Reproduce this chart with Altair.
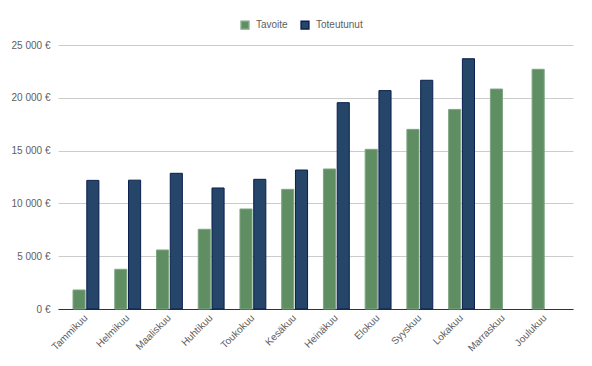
import altair as alt
import pandas as pd

months = ["Tammikuu", "Helmikuu", "Maaliskuu", "Huhtikuu", "Toukokuu", "Kesäkuu",
          "Heinäkuu", "Elokuu", "Syyskuu", "Lokakuu", "Marraskuu", "Joulukuu"]
series_names = ["Tavoite", "Toteutunut"]
tavoite = [1800, 3760, 5590, 7550, 9470, 11330, 13260, 15120, 17010, 18900, 20830, 22700]
toteutunut = [12180, 12200, 12850, 11460, 12280, 13160, 19540, 20680, 21660, 23700]
y_ticks = [0, 5000, 10000, 15000, 20000, 25000]
colors = ["#5f8e63", "#254669"]
strokes = ["#7fa683", "#0b1f4e"]

rows = []
for m, v in zip(months, tavoite):
    rows.append({"Kuukausi": m, "Sarja": "Tavoite", "Arvo": v})
for m, v in zip(months, toteutunut):
    rows.append({"Kuukausi": m, "Sarja": "Toteutunut", "Arvo": v})
df = pd.DataFrame(rows)

FONT = "Liberation Sans Narrow, Arial Narrow, Liberation Sans, Arial"
TEXT = "#5e5e5e"

chart = alt.Chart(df).mark_bar(strokeWidth=1).encode(
    x=alt.X("Kuukausi:N", sort=months, title=None,
            scale=alt.Scale(paddingInner=0.38, paddingOuter=0.36),
            axis=alt.Axis(labelAngle=-45, labelAlign="right", labelBaseline="middle",
                          ticks=False, labelPadding=7, domainColor="#333333",
                          labelColor=TEXT, labelFontSize=10, labelFont=FONT)),
    xOffset=alt.XOffset("Sarja:N", sort=series_names,
                        scale=alt.Scale(paddingInner=0.12)),
    y=alt.Y("Arvo:Q", title=None,
            scale=alt.Scale(domain=[0, 25000], nice=False),
            axis=alt.Axis(values=y_ticks, domain=False, ticks=False, labelPadding=8,
                          gridColor="#cccccc",
                          labelExpr="replace(format(datum.value, ','), ',', ' ') + ' €'",
                          labelColor=TEXT, labelFontSize=10, labelFont=FONT)),
    color=alt.Color("Sarja:N", sort=series_names,
                    scale=alt.Scale(domain=series_names, range=colors),
                    legend=alt.Legend(title=None, orient="none", legendX=182, legendY=-25,
                                      direction="horizontal", symbolType="square",
                                      symbolSize=60, labelFontSize=10, labelFont=FONT,
                                      labelColor=TEXT, columnPadding=10,
                                      labelOffset=6)),
    stroke=alt.Stroke("Sarja:N", sort=series_names,
                      scale=alt.Scale(domain=series_names, range=strokes), legend=None),
).properties(
    width=515, height=264,
    autosize=alt.AutoSizeParams(type="none"),
    padding={"left": 50, "top": 37, "right": 11, "bottom": 49},
).configure_view(stroke=None)

chart.save("out.html", embed_options={"renderer": "svg", "actions": False})
